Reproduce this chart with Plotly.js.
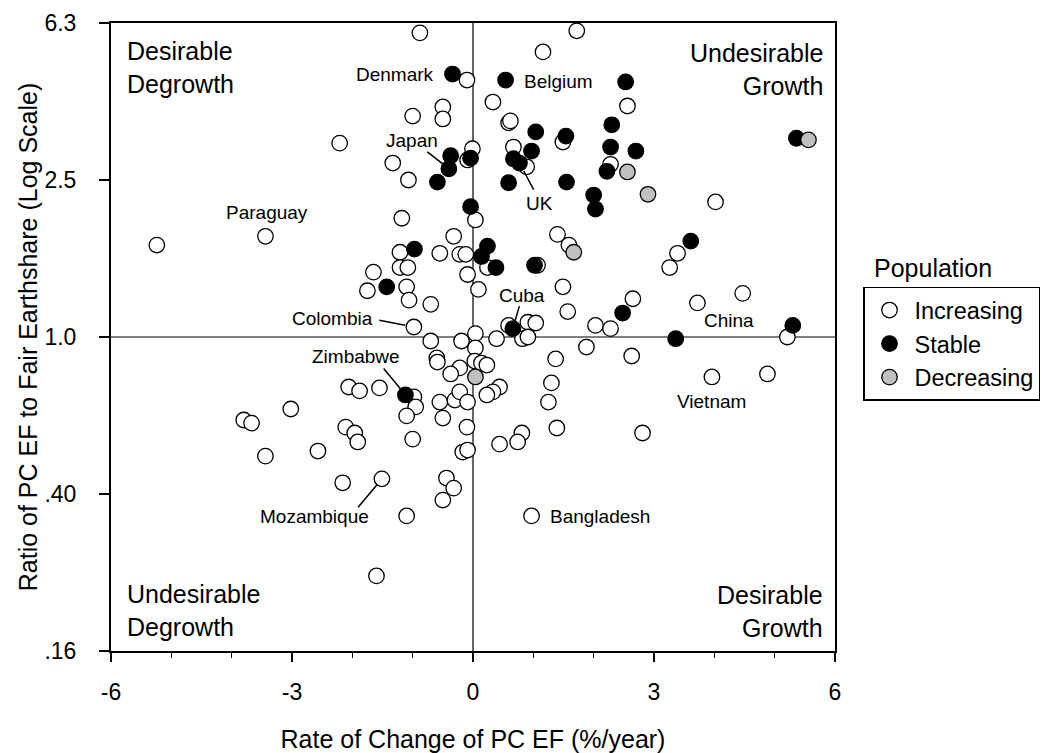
<!DOCTYPE html>
<html>
<head>
<meta charset="utf-8">
<script src="https://cdn.plot.ly/plotly-3.0.1.min.js"></script>
<style>
  html, body { margin: 0; padding: 0; background: #fff; }
  #chart { width: 1054px; height: 753px; }
</style>
</head>
<body>
<div id="chart"></div>
<script>
// Countries with increasing population: rate of change of per-capita EF (%/yr) and ratio to fair earthshare
const incX = [-0.88,-5.24,-3.44,-2.21,-0.10,-0.50,-0.50,-1.00,-1.33,-1.07,-0.09,0.04,-1.18,-0.32,-1.21,-0.55,-0.22,-0.12,-1.65,-1.21,-1.08,-1.75,-1.10,-1.06,-0.70,-0.09,-0.98,
  1.72,1.16,0.33,2.56,0.59,0.62,1.49,-0.01,0.67,0.89,2.28,4.02,1.40,1.59,3.39,0.24,1.07,3.26,0.09,1.49,1.57,2.65,4.47,3.72,5.21,0.59,0.91,1.04,2.03,2.28,0.04,
  -0.70,-0.19,-0.60,-0.59,-0.22,-0.37,-2.06,-1.88,-1.55,-3.02,-3.80,-3.67,-3.44,-2.57,-2.16,-2.11,-1.96,-1.91,-0.98,-0.95,-1.10,-0.55,-0.30,-0.22,-0.09,-0.50,-1.00,-0.10,-0.17,-0.09,-1.51,-0.44,-0.32,-0.50,-1.10,-1.60,0.04,0.03,
  0.39,0.82,0.91,0.14,0.23,0.44,0.33,0.23,1.30,1.25,1.39,2.81,0.44,0.81,0.74,0.97,1.88,2.63,1.37,3.96,4.88];
const incY = [5.90,1.71,1.80,3.10,4.48,3.83,3.57,3.63,2.76,2.50,2.81,1.98,2.00,1.80,1.64,1.63,1.62,1.62,1.46,1.50,1.50,1.31,1.34,1.24,1.21,1.44,1.06,
  5.97,5.28,3.94,3.85,3.49,3.53,3.12,3.00,3.03,2.70,2.74,2.20,1.82,1.71,1.63,1.50,1.52,1.50,1.32,1.34,1.16,1.25,1.29,1.22,1.00,1.07,1.09,1.085,1.07,1.05,1.02,
  0.977,0.977,0.885,0.864,0.835,0.806,0.747,0.730,0.743,0.657,0.616,0.605,0.499,0.514,0.427,0.591,0.571,0.542,0.705,0.665,0.631,0.684,0.692,0.726,0.684,0.623,0.551,0.591,0.511,0.517,0.437,0.439,0.414,0.386,0.352,0.248,0.938,0.869,
  0.99,0.99,1.00,0.859,0.849,0.747,0.726,0.713,0.765,0.684,0.588,0.571,0.535,0.571,0.542,0.352,0.943,0.895,0.880,0.792,0.806];

// Countries with stable population
const stbX = [-0.34,0.54,2.53,2.30,1.04,1.54,2.28,2.70,0.97,-0.37,-0.04,0.67,0.77,-0.40,2.22,-0.59,0.59,1.55,2.00,2.03,-0.04,5.36,3.61,0.24,0.14,-0.97,0.38,1.02,-1.43,2.48,0.66,3.36,5.30,-1.12];
const stbY = [4.64,4.48,4.43,3.45,3.31,3.23,3.03,2.96,2.96,2.88,2.84,2.83,2.76,2.67,2.63,2.47,2.46,2.47,2.29,2.11,2.14,3.19,1.75,1.70,1.60,1.67,1.50,1.52,1.34,1.15,1.05,0.99,1.07,0.713];

// Countries with decreasing population
const decX = [2.56,2.90,5.56,1.67,0.04];
const decY = [2.62,2.30,3.16,1.64,0.792];

// Axis ticks
const xTicks = [-6,-3,0,3,6];
const xTickText = ['-6','-3','0','3','6'];
const yTicks = [0.16,0.4,1,2.5,6.25];
const yTickText = ['.16','.40','1.0','2.5','6.3'];
const xRange = [-6,6];
const yRange = [0.16,6.25];

// Named countries: which series/point they belong to, and where their label sits (px offsets)
const groups = { inc: [incX, incY], stb: [stbX, stbY], dec: [decX, decY] };
const namedCountries = [
  { name: 'Paraguay',   g: 'inc', i: 2,   dx: 2,   dy: 24 },
  { name: 'Denmark',    g: 'stb', i: 0,   dx: -16, dy: 0,  anchor: 'right' },
  { name: 'Belgium',    g: 'stb', i: 1,   dx: 16,  dy: -1, anchor: 'left' },
  { name: 'Japan',      g: 'stb', i: 13,  dx: -37, dy: 28, line: [-23, -18, 7] },
  { name: 'UK',         g: 'stb', i: 12,  dx: 20,  dy: -40, line: [15, 28, 9] },
  { name: 'Colombia',   g: 'inc', i: 26,  dx: -81, dy: 9,  line: [-36, -7, 9] },
  { name: 'Cuba',       g: 'stb', i: 30,  dx: 9,   dy: 33, line: [7, -24, 2] },
  { name: 'Zimbabwe',   g: 'stb', i: 33,  dx: -49, dy: 38, line: [-23, -28, 6] },
  { name: 'China',      g: 'inc', i: 50,  dx: 5,   dy: -18, anchor: 'left' },
  { name: 'Vietnam',    g: 'inc', i: 115, dx: 0,   dy: -25 },
  { name: 'Mozambique', g: 'inc', i: 88,  dx: -67, dy: -38, line: [-25, 30, 7] },
  { name: 'Bangladesh', g: 'inc', i: 111, dx: 16,  dy: -1, anchor: 'left' }
];

const FONT = 'Liberation Sans, Arial, Helvetica, sans-serif';
const markerBase = { size: 15.5, line: { color: '#000', width: 1.3 } };

const traces = [
  // quadrant dividers at zero growth and ratio 1
  { x: [0, 0], y: yRange, mode: 'lines', line: { color: '#000', width: 1.2 }, hoverinfo: 'skip', showlegend: false },
  { x: xRange, y: [1, 1], mode: 'lines', line: { color: '#000', width: 1.2 }, hoverinfo: 'skip', showlegend: false },
  { x: incX, y: incY, mode: 'markers', name: 'Increasing', marker: Object.assign({ color: '#ffffff' }, markerBase) },
  { x: stbX, y: stbY, mode: 'markers', name: 'Stable', marker: Object.assign({ color: '#000000' }, markerBase) },
  { x: decX, y: decY, mode: 'markers', name: 'Decreasing', marker: Object.assign({ color: '#c0c0c0' }, markerBase) }
];

const annotations = [];
namedCountries.forEach(c => {
  const px = groups[c.g][0][c.i];
  const py = Math.log10(groups[c.g][1][c.i]);
  annotations.push({
    x: px, y: py, xref: 'x', yref: 'y', text: c.name, showarrow: false,
    xanchor: c.anchor || 'center', yanchor: 'middle', xshift: c.dx, yshift: c.dy,
    font: { family: FONT, size: 19, color: '#000' }
  });
  if (c.line) {
    annotations.push({
      x: px, y: py, xref: 'x', yref: 'y', text: '', showarrow: true,
      ax: c.line[0], ay: c.line[1], arrowhead: 0, arrowwidth: 1.5, arrowcolor: '#000', standoff: c.line[2]
    });
  }
});

// Quadrant captions
const quad = [
  { text: 'Desirable<br>Degrowth', x: 0.019, y: 0.929, xanchor: 'left', align: 'left' },
  { text: 'Undesirable<br>Growth', x: 0.986, y: 0.926, xanchor: 'right', align: 'right' },
  { text: 'Undesirable<br>Degrowth', x: 0.019, y: 0.065, xanchor: 'left', align: 'left' },
  { text: 'Desirable<br>Growth', x: 0.986, y: 0.063, xanchor: 'right', align: 'right' }
];
quad.forEach(q => annotations.push({
  text: q.text, x: q.x, y: q.y, xref: 'paper', yref: 'paper', xanchor: q.xanchor, yanchor: 'middle',
  align: q.align, showarrow: false, font: { family: FONT, size: 25, color: '#000' }
}));

// Legend heading
annotations.push({
  text: 'Population', x: 1.051, y: 0.61, xref: 'paper', yref: 'paper', xanchor: 'left', yanchor: 'middle',
  showarrow: false, font: { family: FONT, size: 25, color: '#000' }
});

const layout = {
  width: 1054, height: 753,
  margin: { l: 111, r: 219, t: 23, b: 102, autoexpand: false },
  paper_bgcolor: '#fff', plot_bgcolor: '#fff',
  font: { family: FONT, color: '#000' },
  showlegend: true,
  legend: {
    x: 1.0387, y: 0.580, xanchor: 'left', yanchor: 'top',
    bordercolor: '#000', borderwidth: 1.5, bgcolor: '#fff', itemwidth: 40,
    font: { family: FONT, size: 23.5, color: '#000' }, tracegroupgap: 0
  },
  xaxis: {
    range: xRange, tickmode: 'array', tickvals: xTicks, ticktext: xTickText,
    ticks: 'outside', ticklen: 9, tickwidth: 1.5, tickcolor: '#000', ticklabelstandoff: 10,
    showline: true, linewidth: 2, linecolor: '#000', mirror: true, showgrid: false, zeroline: false,
    tickfont: { family: FONT, size: 23, color: '#000' },
    minor: { dtick: 1, ticks: 'outside', ticklen: 5, tickwidth: 1.5, tickcolor: '#000', showgrid: false },
    title: { text: 'Rate of Change of PC EF (%/year)', standoff: 28, font: { family: FONT, size: 25, color: '#000' } },
    automargin: false, fixedrange: true
  },
  yaxis: {
    type: 'log', range: [Math.log10(yRange[0]), Math.log10(yRange[1])],
    tickmode: 'array', tickvals: yTicks, ticktext: yTickText,
    ticks: 'outside', ticklen: 10, tickwidth: 1.5, tickcolor: '#000', ticklabelstandoff: 18,
    showline: true, linewidth: 2, linecolor: '#000', mirror: true, showgrid: false, zeroline: false,
    tickfont: { family: FONT, size: 23, color: '#000' },
    title: { text: 'Ratio of PC EF to Fair Earthshare (Log Scale)', font: { family: FONT, size: 25, color: '#000' } },
    automargin: false, fixedrange: true
  },
  annotations: annotations
};

Plotly.newPlot('chart', traces, layout, { displayModeBar: false, staticPlot: true });
</script>
</body>
</html>
